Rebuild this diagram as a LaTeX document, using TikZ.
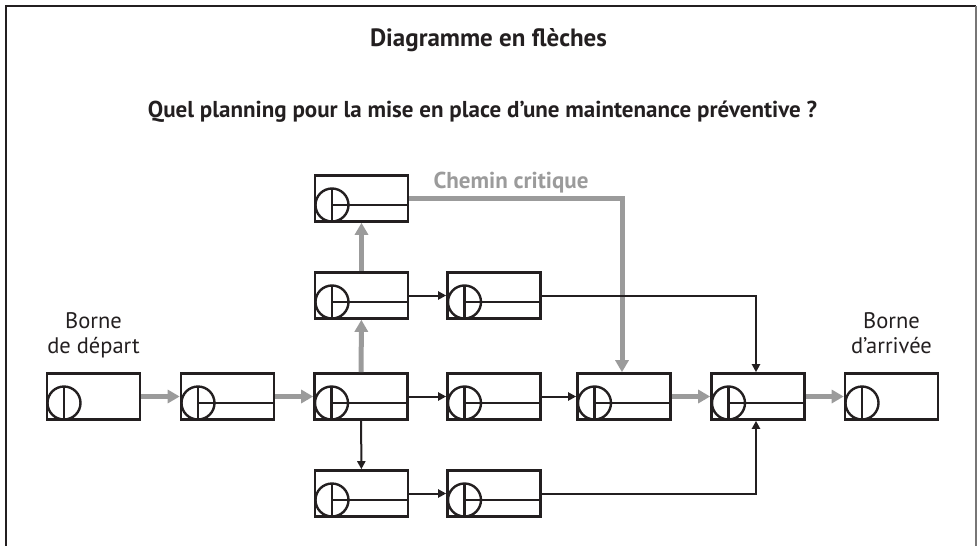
\documentclass[tikz,border=0pt]{standalone}
\usepackage{fontspec}
\setmainfont{PT Sans}
\usetikzlibrary{arrows.meta}
\definecolor{ink}{RGB}{35,31,32}
\definecolor{crit}{RGB}{155,155,155}
\tikzset{
  x=1pt, y=-1pt,
  symb/.style={draw=ink, line width=2.4pt},
  tache/.style={draw=ink, line width=2.6pt, rectangle, minimum width=93pt, minimum height=46pt, inner sep=0pt,
    path picture={
      \coordinate (c) at ([xshift=17pt,yshift=16.5pt]path picture bounding box.south west);
      \draw[symb] (c) circle[radius=16.5pt];
      \draw[symb] (c |- path picture bounding box.south) -- ([yshift=16.5pt]c);
      \draw[symb] (c) -- (c -| path picture bounding box.east);
    }},
  borne/.style={draw=ink, line width=2.6pt, rectangle, minimum width=93pt, minimum height=46pt, inner sep=0pt,
    path picture={
      \coordinate (c) at ([xshift=17pt,yshift=16.5pt]path picture bounding box.south west);
      \draw[symb] (c) circle[radius=16.5pt];
      \draw[symb] (c |- path picture bounding box.south) -- ([yshift=16.5pt]c);
    }},
  critarrow/.style={draw=crit, line width=5pt, -{Triangle[length=12pt,width=13pt]}},
  linkarrow/.style={draw=ink, line width=2pt, -{Triangle[length=8pt,width=8pt]}},
  label/.style={text=ink, font=\fontsize{22.5}{25}\selectfont, align=center},
}
\begin{document}
\begin{tikzpicture}
  \useasboundingbox (0,0) rectangle (977,546);
  % frame, open at the bottom
  \draw[ink, line width=2.5pt] (6,546) -- (6,6) -- (976,6);
  \draw[crit!70!ink, line width=1.5pt] (976,6) -- (976,546);

  % titles
  \node[text=ink, font=\fontsize{25}{30}\bfseries\selectfont] (titre) at (488.5,40) {Diagramme en flèches};
  \node[text=ink, font=\fontsize{23}{28}\bfseries\selectfont] (question) at (482.5,112) {Quel planning pour la mise en place d’une maintenance préventive ?};

  % main row
  \node[borne] (b1) at (93.5,396.5) {};
  \node[tache] (b2) at (227.5,396.5) {};
  \node[tache] (b3) at (361,396.5) {};
  \node[tache] (b4) at (494,396.5) {};
  \node[tache] (b5) at (624,396.5) {};
  \node[tache] (b6) at (758,396.5) {};
  \node[borne] (b7) at (891.5,396.5) {};
  % upper rows
  \node[tache] (m1) at (361.5,295.5) {};
  \node[tache] (m2) at (494,295.5) {};
  \node[tache] (t1) at (361.5,198.5) {};
  % lower row
  \node[tache] (l1) at (361.5,493.5) {};
  \node[tache] (l2) at (494,493.5) {};

  % labels
  \node[label, anchor=base] (depart) at (93.5,353) {Borne\\de départ};
  \node[label, anchor=base] (arrivee) at (891.5,353) {Borne\\d’arrivée};
  \node[text=crit, font=\fontsize{23}{28}\bfseries\selectfont, anchor=base] (critique) at (511,188) {Chemin critique};

  % critical path
  \draw[critarrow] (b1) -- (b2);
  \draw[critarrow] (b2) -- (b3);
  \draw[critarrow] (b3) -- (m1);
  \draw[critarrow] (m1) -- (t1);
  \draw[critarrow] (t1.east) -| ([xshift=-2pt]b5.north);
  \draw[critarrow] (b5) -- (b6);
  \draw[critarrow] (b6) -- (b7);

  % other links
  \draw[linkarrow] (m1) -- (m2);
  \draw[linkarrow] (b3) -- (b4);
  \draw[linkarrow] (b4) -- (b5);
  \draw[linkarrow] (b3) -- (l1);
  \draw[linkarrow] (l1) -- (l2);
  \draw[linkarrow] (m2.east) -| ([xshift=-2pt]b6.north);
  \draw[linkarrow] (l2.east) -| ([xshift=-2pt]b6.south);
\end{tikzpicture}
\end{document}
